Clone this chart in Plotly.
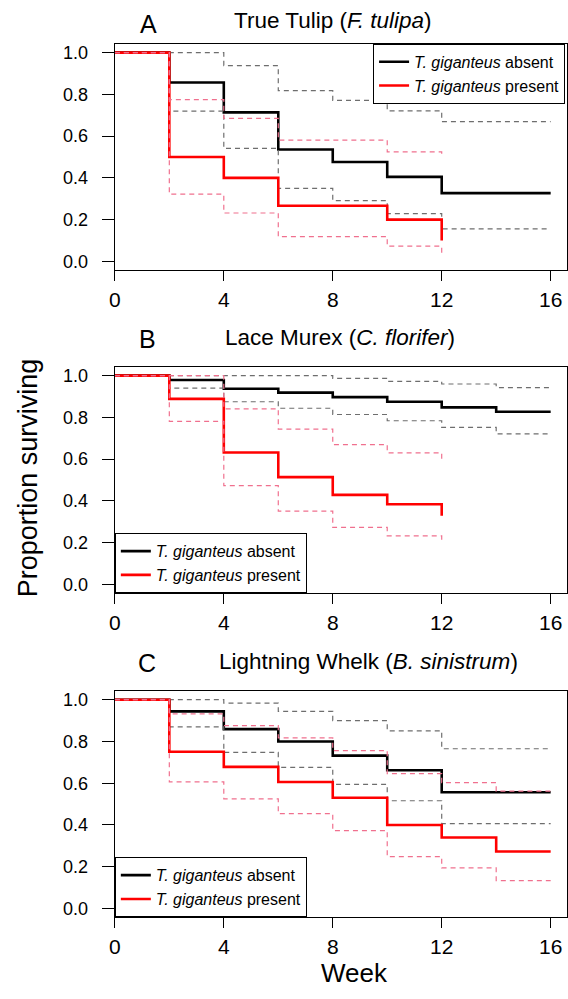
import plotly.graph_objects as go

# ---------------- data ----------------
# Panel A: True Tulip
a_weeks_abs = [0, 2, 4, 6, 8, 10, 12, 16]
a_abs = [1.0, 0.857, 0.714, 0.536, 0.476, 0.405, 0.327, 0.327]
a_abs_hi = [1.0, 1.0, 0.938, 0.818, 0.771, 0.721, 0.670, 0.670]
a_abs_lo = [1.0, 0.720, 0.541, 0.350, 0.291, 0.229, 0.156, 0.156]
a_weeks_pre = [0, 2, 4, 6, 8, 10, 12]
a_pre = [1.0, 0.500, 0.400, 0.267, 0.267, 0.200, 0.100]
a_pre_hi = [1.0, 0.775, 0.685, 0.581, 0.581, 0.525, 0.505]
a_pre_lo = [1.0, 0.322, 0.232, 0.119, 0.119, 0.073, 0.030]

# Panel B: Lace Murex
b_weeks_abs = [0, 2, 4, 6, 8, 10, 12, 14, 16]
b_abs = [1.0, 0.979, 0.937, 0.919, 0.897, 0.875, 0.848, 0.827, 0.827]
b_abs_hi = [1.0, 1.0, 1.0, 1.0, 0.987, 0.973, 0.960, 0.943, 0.943]
b_abs_lo = [1.0, 0.940, 0.875, 0.844, 0.814, 0.784, 0.752, 0.721, 0.721]
b_weeks_pre = [0, 2, 4, 6, 8, 10, 12]
b_pre = [1.0, 0.889, 0.632, 0.514, 0.429, 0.384, 0.329]
b_pre_hi = [1.0, 1.0, 0.841, 0.744, 0.670, 0.630, 0.598]
b_pre_lo = [1.0, 0.781, 0.473, 0.351, 0.273, 0.233, 0.206]

# Panel C: Lightning Whelk
c_weeks_abs = [0, 2, 4, 6, 8, 10, 12, 14, 16]
c_abs = [1.0, 0.944, 0.859, 0.800, 0.732, 0.662, 0.557, 0.557, 0.557]
c_abs_hi = [1.0, 1.0, 0.984, 0.944, 0.900, 0.851, 0.765, 0.765, 0.765]
c_abs_lo = [1.0, 0.870, 0.748, 0.676, 0.594, 0.516, 0.406, 0.406, 0.406]
c_weeks_pre = [0, 2, 4, 6, 8, 10, 12, 14, 16]
c_pre = [1.0, 0.751, 0.678, 0.606, 0.530, 0.400, 0.340, 0.273, 0.273]
c_pre_hi = [1.0, 0.932, 0.876, 0.817, 0.756, 0.646, 0.603, 0.562, 0.562]
c_pre_lo = [1.0, 0.606, 0.525, 0.454, 0.373, 0.248, 0.194, 0.133, 0.133]

x_ticks = [0, 4, 8, 12, 16]
y_ticks = [0.0, 0.2, 0.4, 0.6, 0.8, 1.0]
y_ticklabels = ["0.0", "0.2", "0.4", "0.6", "0.8", "1.0"]

panel_letters = ["A", "B", "C"]
panel_titles = ["True Tulip (<i>F. tulipa</i>)",
                "Lace Murex (<i>C. florifer</i>)",
                "Lightning Whelk (<i>B. sinistrum</i>)"]
legend_labels = ["<i>T. giganteus</i> absent", "<i>T. giganteus</i> present"]

# ---------------- styling ----------------
FONT = "Liberation Sans, Arial, Helvetica, sans-serif"
BLACK = "#000000"
RED = "#ff0000"
GREY = "#6e6e6e"
PINK = "#f0708e"
DASH = "5px,4px"
W, H = 568, 999

panels = [
    dict(wa=a_weeks_abs, abs=a_abs, ahi=a_abs_hi, alo=a_abs_lo,
         wp=a_weeks_pre, pre=a_pre, phi=a_pre_hi, plo=a_pre_lo),
    dict(wa=b_weeks_abs, abs=b_abs, ahi=b_abs_hi, alo=b_abs_lo,
         wp=b_weeks_pre, pre=b_pre, phi=b_pre_hi, plo=b_pre_lo),
    dict(wa=c_weeks_abs, abs=c_abs, ahi=c_abs_hi, alo=c_abs_lo,
         wp=c_weeks_pre, pre=c_pre, phi=c_pre_hi, plo=c_pre_lo),
]

# pixel boxes of the three plot regions (top, bottom)
boxes = [(43, 270), (367, 594), (692, 919)]
x_left, x_right = 110, 567

legend_names = ["legend", "legend2", "legend3"]

fig = go.Figure()
layout = dict(
    width=W, height=H,
    margin=dict(l=0, r=0, t=0, b=0),
    paper_bgcolor="white", plot_bgcolor="white",
    font=dict(family=FONT, color="black"),
    showlegend=True,
)

for i, p in enumerate(panels):
    xa = "x" if i == 0 else f"x{i+1}"
    ya = "y" if i == 0 else f"y{i+1}"
    lg = legend_names[i]
    common = dict(xaxis=xa, yaxis=ya, mode="lines", line_shape="hv", legend=lg)
    fig.add_trace(go.Scatter(x=p["wa"], y=p["abs"], name=legend_labels[0],
                             line=dict(color=BLACK, width=2.6), showlegend=True, **common))
    fig.add_trace(go.Scatter(x=p["wa"], y=p["ahi"], line=dict(color=GREY, width=1.2, dash=DASH),
                             showlegend=False, hoverinfo="skip", **common))
    fig.add_trace(go.Scatter(x=p["wa"], y=p["alo"], line=dict(color=GREY, width=1.2, dash=DASH),
                             showlegend=False, hoverinfo="skip", **common))
    fig.add_trace(go.Scatter(x=p["wp"], y=p["pre"], name=legend_labels[1],
                             line=dict(color=RED, width=2.6), showlegend=True, **common))
    fig.add_trace(go.Scatter(x=p["wp"], y=p["phi"], line=dict(color=PINK, width=1.2, dash=DASH),
                             showlegend=False, hoverinfo="skip", **common))
    fig.add_trace(go.Scatter(x=p["wp"], y=p["plo"], line=dict(color=PINK, width=1.2, dash=DASH),
                             showlegend=False, hoverinfo="skip", **common))

    top, bot = boxes[i]
    xkey = "xaxis" if i == 0 else f"xaxis{i+1}"
    ykey = "yaxis" if i == 0 else f"yaxis{i+1}"
    layout[xkey] = dict(
        domain=[x_left / W, x_right / W], anchor=ya,
        range=[0, 16.6], tickvals=x_ticks, ticktext=[str(t) for t in x_ticks],
        ticks="outside", ticklen=10, tickwidth=1, tickcolor="black",
        showline=True, linecolor="black", linewidth=1.3, mirror=True,
        showgrid=False, zeroline=False,
        tickfont=dict(size=21, family=FONT, color="black"),
    )
    layout[ykey] = dict(
        domain=[1 - bot / H, 1 - top / H], anchor=xa,
        range=[-0.042, 1.042], tickvals=y_ticks, ticktext=y_ticklabels,
        ticks="outside", ticklen=12, tickwidth=1, tickcolor="black",
        showline=True, linecolor="black", linewidth=1.3, mirror=True,
        showgrid=False, zeroline=False, ticklabelstandoff=10,
        tickfont=dict(size=18, family=FONT, color="black"),
    )

legend_common = dict(bgcolor="white", bordercolor="black", borderwidth=1,
                     font=dict(size=16, family=FONT, color="black"),
                     tracegroupgap=0, itemclick=False)
layout["legend"] = dict(x=371 / W, y=1 - 43 / H, xanchor="left", yanchor="top", **legend_common)
layout["legend2"] = dict(x=110 / W, y=1 - 594 / H, xanchor="left", yanchor="bottom", **legend_common)
layout["legend3"] = dict(x=110 / W, y=1 - 919 / H, xanchor="left", yanchor="bottom", **legend_common)

fig.update_layout(**layout)

annotations = []
letter_pos = [(144, 23), (143, 339), (143, 664)]
title_pos = [(330, 20), (338, 338), (366, 662)]
for i in range(3):
    lx, ly = letter_pos[i]
    tx, ty = title_pos[i]
    annotations.append(dict(text=panel_letters[i], x=lx / W, y=1 - ly / H, xref="paper", yref="paper",
                            xanchor="center", yanchor="middle", showarrow=False,
                            font=dict(size=25, family=FONT, color="black")))
    annotations.append(dict(text=panel_titles[i], x=tx / W, y=1 - ty / H, xref="paper", yref="paper",
                            xanchor="center", yanchor="middle", showarrow=False,
                            font=dict(size=22.5, family=FONT, color="black")))
annotations.append(dict(text="Proportion surviving", x=22 / W, y=1 - 478 / H, xref="paper", yref="paper",
                        xanchor="center", yanchor="middle", textangle=-90, showarrow=False,
                        font=dict(size=27, family=FONT, color="black")))
annotations.append(dict(text="Week", x=352 / W, y=1 - 975 / H, xref="paper", yref="paper",
                        xanchor="center", yanchor="middle", showarrow=False,
                        font=dict(size=26, family=FONT, color="black")))
fig.update_layout(annotations=annotations)

fig.write_html("out.html",
               config={"displayModeBar": False},
               post_script="document.body.style.margin='0px';document.body.style.padding='0px';"
                           "document.documentElement.style.overflow='hidden';")
